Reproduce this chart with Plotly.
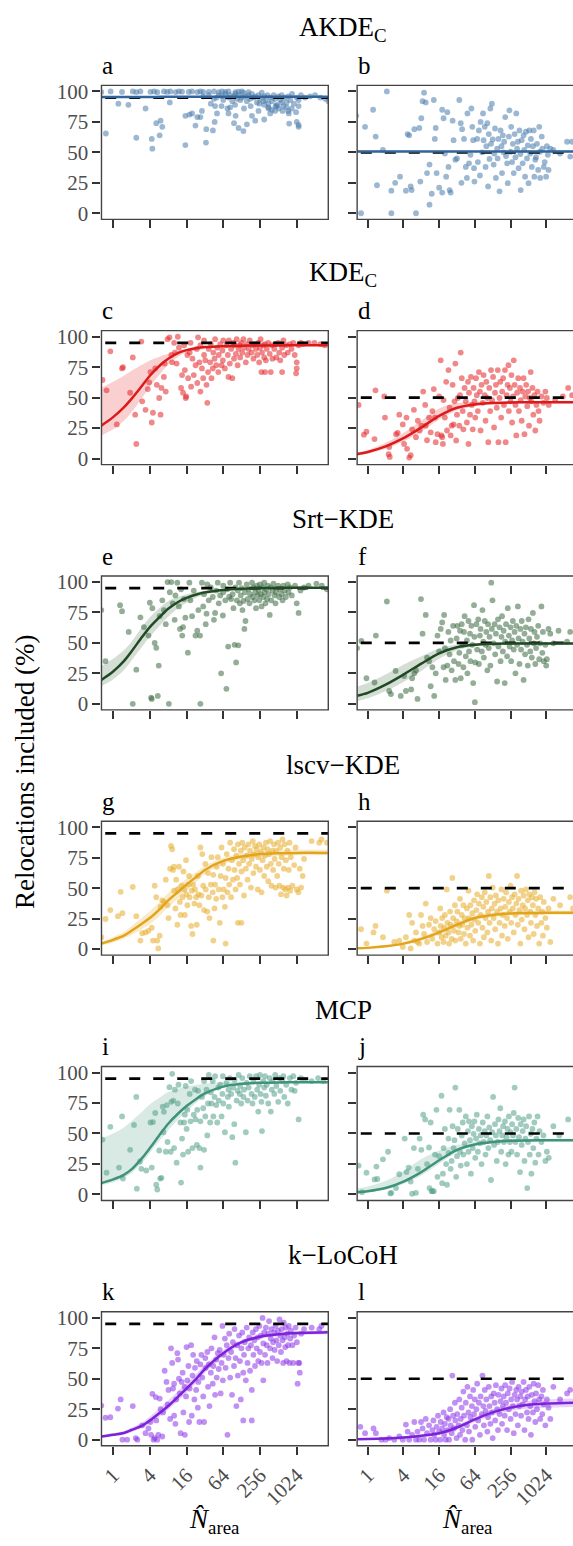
import math
import plotly.graph_objects as go

# ---------------- data ----------------
methods = ["AKDE<sub>C</sub>", "KDE<sub>C</sub>", "Srt\u2212KDE", "lscv\u2212KDE", "MCP", "k\u2212LoCoH"]
panel_letters = ["a", "b", "c", "d", "e", "f", "g", "h", "i", "j", "k", "l"]
target_pct = [95, 50]
x_tick_vals = [1, 4, 16, 64, 256, 1024]
x_tick_text = ["1", "4", "16", "64", "256", "1024"]
y_tick_vals = [0, 25, 50, 75, 100]
y_tick_text = ["0", "25", "50", "75", "100"]

fit_n_left = [0.64, 1, 1.5, 2, 3, 4, 6, 8, 12, 16, 24, 32, 64, 128, 256, 512, 1024, 3300]
fit_n_right = [0.64, 1, 2, 4, 8, 16, 32, 64, 128, 256, 512, 1024, 2048, 3300]

# (N_area, % included) pairs per panel
akde_a = [(0.64,99.5),(0.91,100),(1.4,99.6),(2.1,100),(2.4,99.5),(2.8,100),(4.1,99.7),(4.7,100),(5.3,99.4),(6.8,100),
 (7.7,99.6),(8.7,100),(10.6,99.5),(12,100),(13.5,99.8),(17.4,99.6),(19.7,100),(24,99.5),(27,100),(30,99.6),
 (37,99.7),(45,100),(54,99.5),(61,100),(69,99.6),(78,100),(101,99.5),(114,99.8),(129,100),(166,99.5),
 (30,96),(37,97),(45,94),(50,95),(54,97),(61,96),(64,93),(69,98),(78,95),(83,97),(90,92),(95,96),(101,98),(108,94),
 (114,97),(122,93),(129,95),(137,99),(145,96),(156,92),(166,97),(176,94),(189,98),(200,95),(214,96),(228,91),(242,97),
 (256,94),(274,99),(290,92),(300,96),(320,93),(340,97),(353,90),(377,95),(400,92),(430,97),(452,94),(484,89),(512,96),
 (550,93),(580,97),(620,88),(650,95),(700,91),(743,96),(800,93),(860,98),(920,90),(1024,95),(1100,93),(1200,97),
 (1400,95),(1700,96),(2050,97),(2500,95),(3000,94),(3400,92),
 (350,87),(400,85),(520,86),(600,84),(700,87),(760,82),(850,86),(1000,83),(1100,88),(460,88),(300,89),(250,90),
 (180,88),(140,86),(100,89),(75,86),(60,88),(40,90),
 (0.76,65.5),(1.22,90),(1.78,89),(2.4,62),(3.4,86),(4.3,61),(4.4,53),(5.1,74),(5.8,64),(6,76),(6.4,71),(8.5,91),
 (15.3,56),(15.3,80),(17.9,81),(19.7,82),(22.4,72),(24,79),(27,79),(28.6,84),(33.3,58),(33.7,69),(43.3,68),(46.2,75),
 (47,88),(50.5,82),(78,82),(83,87),(96,74),(102,80),(114,70),(137,67.5),(156,73),(189,80),(214,76),(242,84),(300,77),
 (353,86),(377,82),(452,84),(484,88),(580,91),(743,84),(770,73.6),(1024,75),(1100,71),(1100,72.5)]

akde_b = [(0.64,80),(0.9,71),(1.23,85),(1.36,63),(1.43,23),(0.77,0),(2.1,100),(2.5,18.5),(2.5,0),(2.9,25),(3.5,30),
 (1.8,52),(6.5,0),(4.4,18.5),(4.7,65),(5,64),(5.3,22),(5.5,19),(6.1,69),(7.4,70),(7.7,26),(8,78),(8.4,92),(8.9,99),
 (9.5,91),(10,33),(11,40),(11,7),(12,16),(13,93),(13.5,61),(14,70),(14.5,33),(16,21),(18,85),(18,17),(19,78),(20,49),
 (21,30),(22,83),(23,38),(24,19),(25,17),(27,76),(28,60),(30,44),(32,45),(35,93),(37,74),(38,25),(39,69),(42,61),
 (45,38),(47,29),(48,82),(51,41),(54,48),(56,86),(58,71),(60,60),(62,37),(63,26),
 (70,61),(72,42),(75,68),(78,31),(80,75),(85,50),(88,82),(90,60),(94,71),(97,38),(100,55),(104,74),(107,22),(110,65),
 (113,44.6),(117,86),(120,57),(124,90),(128,60.6),(133,40),(136,49),(140,69.6),(145,29),(152,53),(155,45),(160,61),
 (167,18),(174,68),(180,55),(184,33),(190,64),(196,50),(200,58.7),(208,79),(215,47),(224,41),(230,24.7),(240,63),
 (245,84.5),(256,50.5),(262,71),(272,42),(280,57),(290,33),(300,65),(310,46),(320,82),(330,53),(340,58.7),(350,37),
 (362,68),(375,48.6),(380,19),(395,60),(410,41),(425,64),(435,52),(450,30),(465,67),(485,45),(500,55.7),(515,24.7),
 (530,68),(550,49),(565,61),(585,38),(610,55),(630,68),(645,30),(670,44),(690,46),(715,57),(750,35.6),(780,71),
 (800,50.5),(810,29),(860,63),(880,53),(930,38),(965,42),(1020,30),(1050,55),(1090,48),(1120,35.6),(1200,53),
 (1350,52),(1750,49),(2300,58.7),(2600,46.5),(2800,58.7)]

kde_c = [(0.67,64.5),(0.78,56),(0.9,88),(1.15,28),(1.4,74),(1.45,75),(1.9,54),(2.1,83),(2.3,36),(2.4,12),(2.9,96),
 (3,47),(3.4,40),(3.7,57),(3.9,62.6),(4.1,71),(4.3,29.6),(4.5,37.6),(4.9,74),(5.2,60.5),(5.7,49.7),(6,36),(6.2,58),
 (6.8,67),(7,78),(7.3,55),(7.8,98),(8.4,99.5),(9,85),(9.3,79),(10,95),(10.3,87),(11,78),(11.5,100),(12,91),(13,58),
 (13.5,68.5),(14,54),(14.6,93),(15,72.6),(15.5,49.7),(15.8,51),(16.5,85),(17,66),(18,87),(18.6,95),(19,59),(20,82),
 (21,68.5),(22.5,76.6),(23.6,90),(24,62),(24.7,99.5),(26,79),(27,93),(27,55),(28.6,74),(30,66),(31,85),(31,97),
 (32.5,80.6),(34,60.5),(35,45.7),(36,71),(37,90),(39,79),(40,94),(41,66),(43,74),(44,87),(46,82),(47,98),(49,76.6),
 (51,91),(53,71),(54,85),(57,94),(60,76.6),(62,88.7),(63,80.6),(64,97),(68,74),(72,93),(76,85),(78,67),(79,97),
 (82,78),(86,90),(90,66),(93,95),(96,82),(98,93),(103,86),(106,98),(110,76.6),(114,90),(119,93),(121,83),(126,95),
 (131,87),(137,98),(140,91),(150,79),(155,94),(160,85),(167,90),(174,97),(186,87),(193,93),(200,82),(210,94),
 (220,90),(230,85),(240,95),(248,79),(256,91),(262,98),(270,71),(276,87),(290,93),(300,83),(310,94),(320,80.6),
 (330,90),(350,95),(370,86),(385,71),(400,93),(410,82),(440,90),(455,94),(475,83),(510,95),(530,87),(550,80.6),
 (590,91),(620,97),(640,85),(690,93),(730,87),(790,94),(840,90),(900,95),(950,85),(1000,70),(1024,74),(1024,79),
 (1100,93),(1200,95),(1300,94),(1600,95),(2000,95),(2500,94),(2950,93),(590,71),(310,71)]

kde_d = [(0.7,44),(0.86,19.6),(0.95,22),(1.3,16),(1.35,56),(1.9,51),(1.95,33.6),(2.25,3.5),(2.3,9.4),(2.35,1.3),
 (3,20),(3.2,21),(3.4,36),(3.9,28),(4.1,12),(4.5,33.6),(4.6,8),(5,0.8),(5.3,2.7),(5.6,24),(6,40),(6.5,17.5),(7,31),
 (7.5,23),(8,27),(8.6,55),(9.3,44),(9.5,27),(10,15),(10.8,33.6),(11.5,21.5),(12.3,39),(13,57),(13.6,33.6),(14,13.4),
 (15,20),(16,51),(17,80.6),(17.5,19),(18,17.5),(18.5,12),(19,48),(20,33.6),(21,63),(21.7,23),(23,72.6),(24,41.7),
 (25,19),(26,27),(27,60.5),(28,28),(29,47),(30,78),(31,14.8),(32,36),(33,49.7),(35,27),(36,52),(37,87),(38.5,66),
 (40,39),(41,24),(43,58),(45,47),(47,29.6),(49,63),(50,12),(51,54),(53,36),(55,67),(57,44),(59,24),(61,58),(63,47),
 (65,33.6),(67,66),(69,52),(72,39),(75,71),(78,55),(80,23),(83,60.5),(87,45.7),(90,68.5),(94,52),(97,31),(100,63),
 (104,49.7),(108,13.4),(112,58),(116,39),(120,72.6),(125,48),(130,67),(135,25.5),(140,54),(145,60.5),(150,41.7),
 (156,72.6),(160,13.4),(167,49.7),(172,63),(178,33.6),(185,55),(192,66),(198,44),(206,72.6),(212,13.4),(220,52),
 (228,60.5),(236,76.6),(240,39),(250,58),(256,47),(265,68.5),(272,29.6),(282,51),(290,80.6),(300,60.5),(310,44),
 (320,19),(330,54),(345,66),(355,39),(370,58),(380,48),(395,31),(410,55),(425,66),(440,20),(455,51),(470,60.5),
 (490,43),(505,55),(525,27),(540,49.7),(560,71),(575,47),(600,58),(620,36),(645,52),(670,23),(700,44),(730,55),
 (760,39),(790,31),(850,51),(920,45.7),(990,55),(1050,49.7),(1130,44),(1450,48),(1950,51),(2400,58),(2800,52)]

srt_e = [(0.64,77),(0.75,35),(1.3,81),(1.4,76),(1.8,59),(2.1,0),(2.4,28),(2.8,71),(3.2,63),(3.8,56),(4,83),(4.2,5),
 (4.3,4),(4.4,78.5),(4.8,50),(5.1,46),(5.4,6.5),(5.6,31.4),(5.8,72),(6.4,85),(6.8,77),(7.3,65.4),(7.8,100),(8.2,0),
 (8.5,91.6),(9,100),(9.5,82.5),(10.2,69),(10.5,89),(11.3,99.5),(12,80),(12.5,61.5),(13,94),(13.6,56),(14,63),
 (14.5,86),(15.3,70.7),(16.8,42),(17.8,99.5),(18.5,85),(19.7,72),(21,93),(22.4,56),(24,60),(25,77),(26.6,56),(27,0),
 (28.6,99.5),(30,80),(31,90),(33,65.4),(34,74),(35,98),(37,85),(40,95.5),(43,87.7),(45,69),(47,74.6),(49,93),
 (52,99.5),(54,82.5),(57,89),(59,25),(63,72.5),(64,91.6),(64,97),(69,85),(72,12.3),(74,94),(77,47),(80,88),(83,99.5),
 (86,86),(91,90),(94,78.5),(98,48.4),(101,95.5),(104,34),(107,85),(111,93),(113,48),(116,99.5),(120,82.5),(124,89),
 (128,95),(132,77),(137,84.5),(142,61.5),(145,91.6),(148,68),(155,98),(160,86),(166,94),(172,82.5),(176,90),
 (190,99.5),(194,87.7),(200,95.5),(208,85),(214,91.6),(220,78.5),(228,97),(236,89),(242,93.5),(250,85),(256,98),
 (264,90),(272,80),(282,95.5),(290,87.7),(300,99.5),(304,91.6),(315,82.5),(325,94),(335,86),(345,97),(355,90),
 (370,73),(380,95.5),(390,85),(410,93),(425,98.7),(445,89),(460,82.5),(470,91.6),(510,97),(530,87.7),(540,94),
 (580,90),(600,85),(620,97),(650,93),(680,87.7),(730,98),(750,91.6),(790,95.5),(850,89),(960,97),(1024,82.5),
 (1100,74.6),(1180,93),(1350,95.5),(1600,97),(2150,98.7),(2640,97),(3200,94)]

srt_f = [(0.66,45.8),(0.78,51.6),(0.95,21),(1.3,17.5),(1.37,56),(2.1,84),(2.3,10.5),(2.46,8),(2.95,27),(3.6,6.5),
 (4.1,22.8),(4.4,10.5),(5.4,11.8),(5.6,21),(6.1,25),(6.5,27.5),(6.9,4),(7.9,86),(8.4,57.6),(9.5,73),(10,38),
 (10.8,35),(11.5,14.4),(12.3,30),(13.2,6.5),(14,25),(15,56),(16,43),(17,61.5),(18,66.8),(19,30),(19.4,73),(20,45.8),
 (20.6,19.6),(22,31.4),(22.9,59),(24,40.6),(25,52),(26,27.5),(27.5,64),(28.5,35),(30,19.6),(31.5,53.7),(32.4,64),
 (34,32.7),(35,41.9),(36,60),(37,21),(38.4,65.4),(39.4,48.4),(41,30),(42,59),(43,72),(45,39),(47,52),(48,25),
 (50,68),(51,43),(53,57.6),(54,35),(56,64),(58,48.4),(60,17),(62,81),(63,55),(64,1.3),(65,34),(68,65.4),(70,44.5),
 (73,69.4),(75,32.7),(78,56),(80,61.5),(84,43),(86,77),(89,51),(91,38),(94,68),(97,48.4),(100,59),(104,27.5),
 (107,65.4),(110,45.8),(113,55),(117,31.4),(121,99.5),(124,61.5),(127,85),(133,49.7),(138,65.4),(141,40.6),
 (145,57.6),(152,18.3),(157,69.4),(160,47),(167,62.8),(174,35),(180,55),(184,72),(190,43),(196,60),(204,17),
 (208,51),(215,65.4),(224,39),(230,78.5),(240,56),(247,47),(256,62.8),(262,35),(272,52),(280,68),(290,44.5),
 (300,59),(310,25),(320,64),(330,48.4),(340,80),(350,53.7),(362,32.7),(375,61.5),(385,44.5),(395,68),(410,51),
 (425,19.6),(440,57.6),(450,40.6),(465,62.8),(485,48.4),(500,31.4),(515,69.4),(530,53.7),(550,43),(565,61.5),
 (585,38),(610,74.6),(630,49.7),(650,59),(670,32.7),(690,45.8),(715,55),(750,64),(780,36.6),(810,49.7),(850,80),
 (880,41.9),(900,59),(930,35),(990,48.4),(1024,31.4),(1050,36.6),(1120,61.5),(1200,57.6),(1350,49.7),(1650,60),
 (2300,51),(2600,59)]

lscv_g = [(0.64,9.7),(0.75,24.7),(0.9,32),(1.2,27),(1.33,47),(1.42,29.5),(2.1,51),(2.4,27),(2.8,7),(3,13),(3.4,13.7),
 (3.8,15),(4.3,17.6),(4.5,7),(4.8,52),(5.1,42.6),(5.3,7),(5.5,0.5),(5.8,11),(6,34.7),(6.4,40),(6.8,38.7),(7.3,57),
 (7.8,36),(8.1,25.5),(8.6,66),(8.9,84.7),(9.3,82),(9.6,65),(9.9,67.6),(10,48),(10.5,33.4),(10.8,57),(11.3,20),
 (11.6,49),(12,67.6),(12.4,38.7),(12.8,28),(13.3,52),(13.8,42.6),(14.2,63.7),(14.8,49),(15,28),(15.7,73),(16,45),
 (16.5,36),(17.2,53),(17.6,60),(18,42.6),(19,19),(19.5,48),(20,12.4),(20.5,53),(21.5,37.4),(22,49),(23,42.6),
 (23.5,20),(24.5,60),(25,45),(26,36),(27,83.4),(28,44),(29,78),(30,52),(31,32),(32.5,70),(33,49),(35,30.8),
 (36,62.4),(37,42.6),(38,25.5),(40,53),(41,75.5),(43,46.6),(44,61),(44,7),(46,33.4),(47,53),(49,41.3),(50,67.6),
 (52,75.5),(54,49),(56,21.6),(58,60),(60,83.4),(62,42.6),(63,70),(65,49),(68,34.7),(70,58.4),(70,4.5),(73,78),
 (75,46.6),(78,66),(80,53),(83,87.4),(86,42.6),(89,73),(92,57),(96,82),(98,65),(102,49),(105,76.8),(108,58.4),
 (111,86),(111,21.6),(116,70),(120,53),(124,80.8),(127,63.7),(127,21.6),(131,87.4),(136,73),(140,44),(144,83.4),
 (150,66),(155,76.8),(160,57),(165,86),(170,70),(176,80.8),(182,50.5),(188,74),(195,88.7),(200,62.4),(207,78),
 (212,84.7),(220,67.6),(226,82),(235,49),(240,75.5),(250,86),(256,65),(265,79.5),(272,46.6),(282,73),(290,83.4),
 (300,60),(310,76.8),(320,87.4),(330,67.6),(340,82),(350,55.8),(360,78),(375,88.7),(385,70),(395,52),(410,80.8),
 (420,65),(435,86),(445,74),(460,50.5),(475,80.8),(490,60),(505,87.4),(520,70),(535,52),(550,83.4),(565,45),
 (580,75.5),(600,90),(615,50.5),(630,66),(650,86),(665,49),(680,73),(700,44),(720,80.8),(740,50.5),(760,65),
 (780,87.4),(800,48),(820,75.5),(870,52),(930,69),(980,83.4),(1030,49),(1090,46.6),(1150,66),(1210,50.5),(1280,60),
 (1350,74),(1800,88.7),(2400,87.4),(2600,90),(3200,87.4)]

lscv_h = [(0.77,16.3),(0.95,4.5),(1.25,13.7),(1.35,19),(1.8,9.7),(2.1,48),(2.8,5.8),(3.4,7),(3.9,1.8),(4.4,9.7),
 (5,28),(5.3,0.5),(5.6,21.6),(6.1,7),(6.5,13.7),(6.9,5.8),(7.4,4.5),(7.9,28),(8.4,19),(8.9,12.4),(9.5,37.4),(10,5.8),
 (10.8,20),(11.5,25.5),(12.3,8.4),(13.2,16.3),(14,23),(15,4.5),(16,13.7),(16.7,33.4),(17,19),(17.6,9.7),(18,25.5),
 (19,5.8),(19.4,17.6),(20,28),(20.6,11),(21.5,49),(22,21.6),(23,13.7),(23.5,4.5),(24.5,30.8),(25,20),(26,8.4),
 (26.7,58.4),(27.5,25.5),(28.5,15),(29.5,36),(30,7),(31.5,23),(32.4,30.8),(34,13.7),(35,19),(36,41.3),(37,8.4),
 (38.4,28),(39.4,20),(41,36),(42,12.4),(43,25.5),(45,4.5),(47,33.4),(48,17.6),(50,48),(51,25.5),(53,11),(54,36),
 (56,20),(58,29.5),(60,7),(62,40),(63,24.2),(65,15),(68,32),(70,45),(73,21.6),(75,37.4),(78,4.5),(80,28),(84,42.6),
 (86,17.6),(89,34.7),(91,9.7),(94,46.6),(97,25.5),(100,38.7),(104,13.7),(107,30.8),(110,60),(113,21.6),(117,42.6),
 (121,7),(124,33.4),(128,50.5),(133,25.5),(138,37.4),(141,16.3),(145,44),(152,30.8),(157,4.5),(160,40),(167,21.6),
 (174,33.4),(180,49),(184,11),(190,28),(196,41.3),(204,19),(208,34.7),(215,46.6),(224,25.5),(230,8.4),(240,38.7),
 (247,30.8),(256,52),(262,21.6),(272,42.6),(280,33.4),(290,13.7),(300,45),(310,28),(320,37.4),(330,60),(340,20),
 (350,41.3),(362,32),(375,4.5),(385,48),(395,24.2),(410,36),(425,44),(440,16.3),(450,33.4),(465,49),(485,28),
 (500,40),(515,9.7),(530,45),(550,30.8),(565,21.6),(585,42.6),(610,36),(630,12.4),(650,46.6),(670,28),(690,41.3),
 (715,19),(750,33.4),(780,4.5),(810,42.6),(850,21.6),(880,30.8),(900,11),(930,38.7),(990,25.5),(1050,17.6),
 (1120,33.4),(1200,5.8),(1350,41.3),(1750,36),(2600,42.6),(2900,33.4)]

mcp_i = [(0.67,45),(0.78,17.8),(0.9,55.5),(1.25,22),(1.4,64),(1.45,13),(1.9,36.6),(2.2,57),(2.4,80),(2.45,4.7),
 (2.75,27),(2.9,21),(3.5,19.6),(4.1,59),(4.3,22),(4.5,59.4),(4.9,66.8),(5.1,7.9),(5.3,4),(5.7,36),(5.9,13),(6.2,13.6),
 (6.5,72),(6.7,51),(6.8,67.8),(7.3,35),(7.6,73.3),(7.8,43),(8.4,88),(8.8,35),(9,76),(9.3,99),(9.7,77),(10,38),
 (10.3,86),(11,26),(11.5,74.6),(11.8,90),(12.7,59),(13,9.7),(13.5,45.8),(14,32.7),(14.6,59),(15,65.4),(15.5,89),
 (16,53.7),(16.5,69.4),(17,35),(18,82.5),(18.6,60),(19,93),(20,38),(21,65.4),(22,86),(22.5,61.5),(23.6,40.6),
 (24,69.4),(24.7,85),(26,38),(27,60),(27,22),(28.6,80),(30,70.7),(31,93),(31,36.6),(32.5,64),(34,86),(35,48.4),
 (36,74.6),(37,98),(39,59),(40,83.8),(41,74.6),(43,93),(44,64),(46,80),(47,97),(49,73.3),(51,59),(53,87.7),(54,77),
 (57,90),(60,64),(62,82.5),(63,97),(64,74.6),(68,51),(72,91.6),(76,80),(78,86),(79,72),(82,95.5),(86,82.5),(90,47),
 (93,87.7),(97,57.6),(98,94),(101,26),(106,77),(110,85),(114,98),(119,82.5),(121,89),(126,74.6),(131,95.5),(137,80),
 (140,86),(150,51),(155,91.6),(160,77),(167,87.7),(174,97),(186,82.5),(193,74.6),(200,93),(210,80),(220,97),(230,86),
 (240,68),(248,90),(256,98),(262,82.5),(270,76),(276,52),(290,93),(300,87.7),(310,97),(320,81),(330,90),(350,74.6),
 (370,95.5),(385,68),(400,86),(410,93),(440,82.5),(455,98),(475,89),(510,76),(530,95.5),(550,85),(590,93),(620,97),
 (640,80),(690,90),(730,74.6),(790,95.5),(840,86),(900,97),(950,85),(1000,91.6),(1100,61.5),(1200,95.5),(1400,94),
 (1800,93),(2300,95.5),(2800,93)]

mcp_j = [(0.7,23.6),(0.8,1.8),(0.95,17.8),(1.3,12.3),(1.4,22.8),(1.45,12.6),(1.8,28.8),(2.2,35),(2.4,0.8),(2.5,1.3),
 (3,5.2),(3.4,16.5),(4.2,45.8),(4.5,18.3),(4.9,22),(5.3,10.5),(5.6,0.5),(6,38),(6.5,1.3),(7,21),(7.5,45.8),(8,36.6),
 (8.6,65.4),(9.3,61.5),(10,24.9),(10.8,38.5),(11,5.2),(11.5,59),(12,2.6),(12.3,2.6),(13,2.6),(13.6,32.7),(14.4,69.4),
 (15,14.4),(16,31.4),(17.5,81),(18,9.2),(18.5,17),(19,38),(20,53.7),(21,24.9),(21.7,7.9),(23,34),(23,45.8),(24,69.4),
 (25,21),(26,27.5),(27,56),(28,38),(29,44.5),(30,87.7),(31,14.4),(32,31.4),(33,53.7),(35,69.4),(36,35),(37,23.6),
 (38.5,48.4),(40,59),(41,32.7),(43,41.9),(45,64),(47,24.9),(49,52),(50,35),(51,60),(53,44.5),(55,17),(57,56),(59,38),
 (61,49.7),(63,60),(65,30),(67,45.8),(69,65.4),(72,35),(75,53.7),(78,41.9),(80,48.4),(83,24.9),(87,59),(90,43),
 (94,52),(97,32.7),(100,48.4),(104,64),(108,38),(112,55),(116,44.5),(120,11.8),(125,51),(130,80),(135,40.6),
 (140,57.6),(145,48.4),(150,27.5),(156,43),(160,61.5),(167,52),(172,70.7),(178,35),(185,48.4),(192,56),(198,43),
 (206,60),(212,24.9),(220,47),(228,53.7),(236,32.7),(240,64),(250,43),(256,51),(265,35),(272,57.6),(282,48.4),
 (290,66.8),(300,87.7),(310,43),(320,53.7),(330,32.7),(345,62.8),(355,47),(370,18.3),(380,57.6),(395,40.6),(410,52),
 (425,61.5),(440,27.5),(455,45.8),(470,56),(490,5.2),(505,43),(525,64),(540,32.7),(560,49.7),(575,17),(600,53.7),
 (620,38),(645,59),(670,26),(700,45.8),(730,64),(760,32.7),(790,52),(850,43),(920,48.4),(990,27.5),(1050,35),
 (1130,30),(1350,56),(1700,48.4),(2400,61.5)]

locoh_k = [(0.64,28),(0.75,18),(0.9,18.4),(1.2,25.5),(1.33,33),(1.42,0),(1.7,0),(2.1,27.6),(2.35,1.3),(2.5,0),(3,11.8),
 (3.4,5.3),(3.8,9.2),(4.1,14.5),(4.2,4),(4.4,37.6),(4.6,0),(4.8,1.3),(5,35),(5.1,15.8),(5.3,0),(5.5,4),(5.8,33.7),
 (6,25),(6.4,2.6),(6.6,22.4),(7,56.6),(7.5,47.4),(7.8,29),(8.1,40.8),(8.6,17),(8.9,75),(9.3,63),(9.6,42),(10,19.7),
 (10,46),(10.5,13),(10.8,33),(11.3,71),(11.6,65.8),(12,50),(12.4,38),(12.8,5.3),(13.3,47.4),(13.8,55),(14.2,22.4),
 (14.8,43.4),(15,4),(15.7,35.5),(16,76),(16.5,48.7),(17.2,60.5),(17.6,14.5),(18,42),(19,77.6),(19.5,19.7),(20,52.6),
 (20.5,69.7),(21.5,33),(22,59),(23,40.8),(23.5,64.5),(24.5,26.3),(25,47.4),(26,14.5),(27,61.8),(28,69.7),(29,51),
 (30,35.5),(31,14.5),(32.5,67),(33,59),(35,72),(36,43.4),(37,61.8),(38,27.6),(40,55),(41,75),(43,46),(44,60.5),
 (46,84),(47,36.8),(49,65.8),(50,51),(52,71),(54,58),(56,73.7),(58,38),(60,63),(62,93.4),(63,48.7),(65,69.7),(68,83),
 (70,59),(73,77.6),(75,4),(78,67),(80,87),(83,51),(86,72),(89,36.8),(92,80),(96,60.5),(98,90.8),(102,67),(105,27.6),
 (108,77.6),(111,52.6),(116,85.5),(120,64.5),(124,33),(127,75),(131,88),(136,55),(136,15.8),(140,69.7),(144,80),
 (150,48.7),(155,92),(160,63),(165,75),(170,84),(176,56.6),(182,77.6),(188,40.8),(188,15.8),(195,88),(200,69.7),
 (207,81.6),(212,60.5),(220,90.8),(226,75),(235,84),(240,64.5),(250,93.4),(256,72),(265,85.5),(272,63),(282,100),
 (290,79),(290,48.7),(300,88),(310,69.7),(320,92),(330,77.6),(340,63),(350,87),(360,97.4),(375,75),(385,83),
 (395,90.8),(410,67),(420,80),(435,88),(445,73.7),(460,93.4),(475,81.6),(490,64.5),(505,89.5),(520,77.6),(535,98.7),
 (550,85.5),(565,72),(580,90.8),(600,81.6),(615,63),(630,96),(650,84),(665,76),(680,92),(700,64.5),(720,87),
 (740,77.6),(760,93.4),(780,63),(800,83),(820,89.5),(870,77.6),(900,63),(930,85.5),(980,92),(1030,80),(1060,46),
 (1090,63),(1130,63),(1150,55),(1210,87),(1350,90.8),(1800,92),(2400,90.8),(2600,93.4)]

locoh_l = [(0.75,10.5),(0.9,5.3),(1.25,9.2),(1.37,5.3),(1.7,0),(2,0),(2.3,1.3),(2.8,0),(3.4,2.6),(3.9,0),(4.4,12.4),
 (4.7,6.6),(5,0),(5.6,4),(6.1,14.5),(6.5,0),(6.9,6.6),(7.4,0),(7.9,14.5),(8.4,9.2),(8.9,0),(9.5,17),(10,5.3),
 (10.8,11.8),(11.5,0),(12.3,7.9),(12.8,15.8),(13.2,4),(14,0),(14.5,10.5),(15.3,19.7),(16,6.6),(16.7,0),(17,14.5),
 (18,9.2),(19,22.4),(19.4,4),(20,13),(20.6,0),(21.5,18.4),(22,7.9),(23,17),(23.5,0),(24.5,25),(25,11.8),(26,5.3),
 (26.7,52.6),(27.5,19.7),(28.5,9.2),(29.5,30.3),(30,15.8),(31.5,1.3),(32.4,21),(34,11.8),(35,33),(36,4),(37,17),
 (38.4,26.3),(39.4,7.9),(41,39.5),(42,19.7),(44,0),(45,30.3),(47,11.8),(48,43.4),(50,22.4),(51,6.6),(53,35.5),
 (54,18.4),(57,27.6),(58,0),(60,40.8),(62,21),(64,33),(65,10.5),(68,25),(70,46),(73,15.8),(75,30.3),(78,4),(80,35.5),
 (84,21),(86,52.6),(89,27.6),(91,11.8),(94,40.8),(97,23.7),(100,33),(104,6.6),(107,18.4),(110,43.4),(113,27.6),
 (117,13),(121,35.5),(124,22.4),(128,1.3),(133,38),(138,30.3),(141,15.8),(145,44.7),(152,25),(157,7.9),(160,36.8),
 (167,21),(174,31.6),(180,42),(184,13),(190,27.6),(196,35.5),(204,19.7),(208,44.7),(215,30.3),(224,7.9),(230,38),
 (240,25),(247,42),(256,17),(262,33),(272,47.4),(280,27.6),(290,5.3),(300,36.8),(310,21),(320,40.8),(330,33),
 (340,11.8),(350,43.4),(362,27.6),(375,35.5),(385,19.7),(395,39.5),(410,29),(425,47.4),(440,7.9),(450,33),
 (465,40.8),(485,22.4),(500,35.5),(515,17),(530,43.4),(550,27.6),(565,4),(585,36.8),(610,22.4),(630,46),
 (650,31.6),(670,14.5),(690,38),(715,25),(750,44.7),(780,33),(810,17),(850,35.5),(880,21),(900,40.8),(930,29),
 (990,11.8),(1050,33),(1120,26.3),(1200,17),(1350,43.4),(1750,33),(2300,38),(2600,40.8)]

# fitted curves on fit_n_left / fit_n_right
akde_a_fit = [95.5,95.5,95.5,95.5,95.5,95.5,95.6,95.6,95.6,95.6,95.6,95.6,95.6,95.6,95.6,95.6,95.6,95.6]
akde_a_lo = [94.9,95.0,95.0,95.1,95.1,95.2,95.2,95.3,95.3,95.3,95.3,95.3,95.3,95.3,95.3,95.2,95.2,95.1]
akde_a_hi = [96.1,96.0,96.0,95.9,95.9,95.9,95.9,95.9,95.9,95.9,95.9,95.9,95.9,95.9,95.9,96.0,96.0,96.1]
akde_b_fit = [50.8,50.8,50.8,50.8,50.8,50.8,50.8,50.8,50.8,50.8,50.8,50.8,50.8,50.8]
akde_b_lo = [49.8,49.9,50.0,50.1,50.2,50.3,50.3,50.3,50.3,50.2,50.1,50.0,49.9,49.8]
akde_b_hi = [51.8,51.7,51.6,51.5,51.4,51.3,51.3,51.3,51.3,51.4,51.5,51.6,51.7,51.8]

kde_c_fit = [27,34,42,49,60,68,77,82,87,89,90.8,91.5,92.3,92.7,92.8,92.9,93,93]
kde_c_lo = [19,24,31,38,50,59,70,77,84,87,89,90,91.3,92,92.2,92.3,92.4,92.4]
kde_c_hi = [58,63,68,72,77,80.5,84,86,88.5,90,91.5,92.3,93,93.3,93.4,93.5,93.6,93.6]
kde_d_fit = [3.5,5.4,10,16.7,25.5,35,41.7,44.4,45.5,46,46.2,46.3,46.3,46.3]
kde_d_lo = [2.5,4,8,14,22,32,39.5,43,44.5,45,45.2,45.3,45.3,45.3]
kde_d_hi = [5,7,13,21,31,41,45.5,46.5,47,47.2,47.3,47.4,47.4,47.4]

srt_e_fit = [19.6,26.5,35,43,55,63,72,78,84,87,90,91.5,93.5,94.5,95,95.2,95.3,95.3]
srt_e_lo = [14.4,20,27.5,35.5,47,55,65,71.5,79,83,87.5,89.5,92.8,94,94.5,94.7,94.8,94.8]
srt_e_hi = [31,37,44,51,63,71,79.5,84.5,88,90,91.8,92.8,94.2,95,95.5,95.7,95.8,95.8]
srt_f_fit = [6.5,9,15.7,24,33,41.5,46.5,48.5,49.3,49.5,49.6,49.6,49.6,49.6]
srt_f_lo = [2,4.5,10.5,18,27,37,44,47.3,48.6,48.8,48.9,48.9,48.9,48.9]
srt_f_hi = [14,17,24,32,39,45.5,48.8,49.8,50.2,50.3,50.4,50.4,50.4,50.4]

lscv_g_fit = [4.5,7.6,11,15,21,25.5,33.5,40,47.5,53,60,65,72.4,76,78,78.7,79,79]
lscv_g_lo = [3,5.5,8.5,11.5,16.5,20.5,28,34.5,42,48,56,61.5,69.5,73.5,75.5,76.5,77,77]
lscv_g_hi = [6,10,14,19,26,31,39.5,46,53,58,64,68.5,75,78.5,80.5,81,81.5,81.5]
lscv_h_fit = [0.6,1,2.3,4.5,8.4,13.7,20,25.5,28,29.2,29.6,29.8,29.8,29.8]
lscv_h_lo = [0.2,0.5,1.5,3.3,6.8,11.8,18,23.5,26.3,27.5,28,28.2,28.2,28.2]
lscv_h_hi = [1.2,1.8,3.3,6,10.2,16,22.5,27.8,30,31,31.5,31.7,31.7,31.7]

mcp_i_fit = [9.2,12.3,16,20.5,30,38,50,58,67,72.5,79,83,88.5,90.8,91.6,91.9,92,92]
mcp_i_lo = [7.5,10,13.5,17.5,26,34,45,52.5,62,68,76,80.5,87.5,90.2,91.2,91.5,91.6,91.6]
mcp_i_hi = [46,50,55,60,68,74,80,84,87,88.5,90,91,92,92.5,92.7,92.8,92.8,92.8]
mcp_j_fit = [1.8,2.6,5.2,10.5,18.3,28,36.6,41,43,44,44.3,44.5,44.5,44.5]
mcp_j_lo = [1.2,2,4,8.5,15.5,25,34.5,39.8,42,43,43.3,43.5,43.5,43.5]
mcp_j_hi = [5,6.5,11,19,29,36,40.5,43,44.5,45.2,45.5,45.6,45.6,45.6]

locoh_k_fit = [2.6,4,5.5,7.9,11.5,15.8,22.5,27.6,36,42,51,58,71,80,84.5,86.5,87.5,88.2]
locoh_k_lo = [1.5,2.8,4.2,6.3,9.5,13.3,19.5,24.5,32.5,38.5,47.5,55,68.5,78,83,85,86,86.5]
locoh_k_hi = [3.8,5.5,7.2,9.8,14,19,26.5,32,40.5,46.5,55,61.5,73.5,82,86,88,89,89.8]
locoh_l_fit = [0.3,0.5,1,1.8,3.2,5.3,10,16.6,22.4,26.3,28.7,29.6,30.1,30.3]
locoh_l_lo = [0.1,0.2,0.5,1.1,2.2,4,8.3,14.5,20,23.5,25.5,26.3,26.7,26.8]
locoh_l_hi = [0.6,0.9,1.6,2.6,4.4,6.8,12,18.8,25,29,31.8,33,33.6,33.8]

# ---------------- styles ----------------
styles = [
    dict(pt="#4a7bab", line="#33649a", rib="rgba(74,123,171,0.30)"),
    dict(pt="#e3262a", line="#dc1a1a", rib="rgba(227,38,42,0.22)"),
    dict(pt="#3d6a42", line="#1f4a23", rib="rgba(61,106,66,0.22)"),
    dict(pt="#e8ad2c", line="#e2a41a", rib="rgba(232,173,44,0.25)"),
    dict(pt="#52a189", line="#3e937a", rib="rgba(82,161,137,0.22)"),
    dict(pt="#8d34e8", line="#7c22d9", rib="rgba(141,52,232,0.22)"),
]

panels = [
    (akde_a, fit_n_left, akde_a_fit, akde_a_lo, akde_a_hi),
    (akde_b, fit_n_right, akde_b_fit, akde_b_lo, akde_b_hi),
    (kde_c, fit_n_left, kde_c_fit, kde_c_lo, kde_c_hi),
    (kde_d, fit_n_right, kde_d_fit, kde_d_lo, kde_d_hi),
    (srt_e, fit_n_left, srt_e_fit, srt_e_lo, srt_e_hi),
    (srt_f, fit_n_right, srt_f_fit, srt_f_lo, srt_f_hi),
    (lscv_g, fit_n_left, lscv_g_fit, lscv_g_lo, lscv_g_hi),
    (lscv_h, fit_n_right, lscv_h_fit, lscv_h_lo, lscv_h_hi),
    (mcp_i, fit_n_left, mcp_i_fit, mcp_i_lo, mcp_i_hi),
    (mcp_j, fit_n_right, mcp_j_fit, mcp_j_lo, mcp_j_hi),
    (locoh_k, fit_n_left, locoh_k_fit, locoh_k_lo, locoh_k_hi),
    (locoh_l, fit_n_right, locoh_l_fit, locoh_l_lo, locoh_l_hi),
]

# ---------------- layout geometry ----------------
W, H = 573, 1546
FONT = "'Liberation Serif', Tinos, 'Times New Roman', Times, serif"
LOG4 = math.log10(4)
x_ranges = [[-0.317 * LOG4, 5.86 * LOG4], [-0.298 * LOG4, 5.75 * LOG4]]
row_tops = [80, 327.2, 574.4, 821.6, 1068.8, 1316]
PH = 135
col_px = [(99, 327), (356, 573)]

fig = go.Figure()
layout = dict(width=W, height=H, autosize=False, margin=dict(l=0, r=0, t=0, b=0),
              paper_bgcolor="white", plot_bgcolor="white", showlegend=False,
              font=dict(family=FONT, color="black", size=20))
shapes = []
annotations = []

tickfont = dict(family=FONT, size=21, color="#4d4d4d")

for p in range(12):
    row, col = divmod(p, 2)
    n = p + 1
    xa = "x" if n == 1 else f"x{n}"
    ya = "y" if n == 1 else f"y{n}"
    pts, fn, fit, lo, hi = panels[p]
    st = styles[row]
    xs = [q[0] for q in pts]
    ys = [q[1] for q in pts]
    fig.add_trace(go.Scatter(x=xs, y=ys, mode="markers", xaxis=xa, yaxis=ya, hoverinfo="skip",
                             marker=dict(size=5.8, color=st["pt"], opacity=0.55, line=dict(width=0))))
    fig.add_trace(go.Scatter(x=[0.3, 10000], y=[target_pct[col], target_pct[col]], mode="lines",
                             xaxis=xa, yaxis=ya, hoverinfo="skip",
                             line=dict(color="black", width=2.7, dash="11px,13px")))
    fig.add_trace(go.Scatter(x=fn, y=lo, mode="lines", xaxis=xa, yaxis=ya, hoverinfo="skip",
                             line=dict(width=0, shape="spline", smoothing=0.8, color=st["rib"])))
    fig.add_trace(go.Scatter(x=fn, y=hi, mode="lines", xaxis=xa, yaxis=ya, hoverinfo="skip",
                             line=dict(width=0, shape="spline", smoothing=0.8, color=st["rib"]),
                             fill="tonexty", fillcolor=st["rib"]))
    fig.add_trace(go.Scatter(x=fn, y=fit, mode="lines", xaxis=xa, yaxis=ya, hoverinfo="skip",
                             line=dict(color=st["line"], width=2.5, shape="spline", smoothing=0.8)))

    x0, x1 = col_px[col]
    top = row_tops[row]
    bot = top + PH
    xkey = "xaxis" if n == 1 else f"xaxis{n}"
    ykey = "yaxis" if n == 1 else f"yaxis{n}"
    layout[xkey] = dict(domain=[x0 / W, x1 / W], type="log", range=x_ranges[col], anchor=ya,
                        tickvals=x_tick_vals, ticktext=x_tick_text, ticks="outside", ticklen=8,
                        tickwidth=2, tickcolor="#333333", showticklabels=(row == 5), tickangle=-45,
                        tickfont=tickfont, showgrid=False, zeroline=False, showline=False)
    layout[ykey] = dict(domain=[1 - bot / H, 1 - top / H], range=[-5, 105], anchor=xa,
                        tickvals=y_tick_vals, ticktext=y_tick_text, ticks="outside", ticklen=8,
                        tickwidth=2, tickcolor="#333333", showticklabels=(col == 0),
                        tickfont=tickfont, showgrid=False, zeroline=False, showline=False)
    xref = "x domain" if n == 1 else f"x{n} domain"
    yref = "y domain" if n == 1 else f"y{n} domain"
    shapes.append(dict(type="rect", xref=xref, yref=yref, x0=0, x1=(1 if col == 0 else 1.05), y0=0, y1=1,
                       line=dict(color="#444444", width=1.4), fillcolor="rgba(0,0,0,0)", layer="above"))
    annotations.append(dict(text=panel_letters[p], x=(x0 - 1) / W, y=1 - (top - 20) / H, xref="paper", yref="paper",
                            xanchor="left", yanchor="middle", showarrow=False,
                            font=dict(family=FONT, size=25, color="black")))

for r in range(6):
    annotations.append(dict(text=methods[r], x=342 / W, y=1 - (row_tops[r] - 57) / H, xref="paper", yref="paper",
                            xanchor="center", yanchor="middle", showarrow=False,
                            font=dict(family=FONT, size=27, color="black")))

annotations.append(dict(text="Relocations included (%)", x=22 / W, y=1 - 772 / H, xref="paper", yref="paper",
                        xanchor="center", yanchor="middle", textangle=-90, showarrow=False,
                        font=dict(family=FONT, size=27, color="black")))
for cx in (213, 467):
    annotations.append(dict(text="<i>N\u0302</i><sub>area</sub>", x=cx / W, y=1 - 1527 / H, xref="paper",
                            yref="paper", xanchor="center", yanchor="middle", showarrow=False,
                            font=dict(family=FONT, size=27, color="black")))

layout["shapes"] = shapes
layout["annotations"] = annotations
fig.update_layout(**layout)
# remove the browser's default 8px page margin so the figure sits at the window origin
fig.write_html("out.html", config={"displayModeBar": False, "staticPlot": True},
               post_script="document.body.style.margin='0';document.body.style.overflow='hidden';")
